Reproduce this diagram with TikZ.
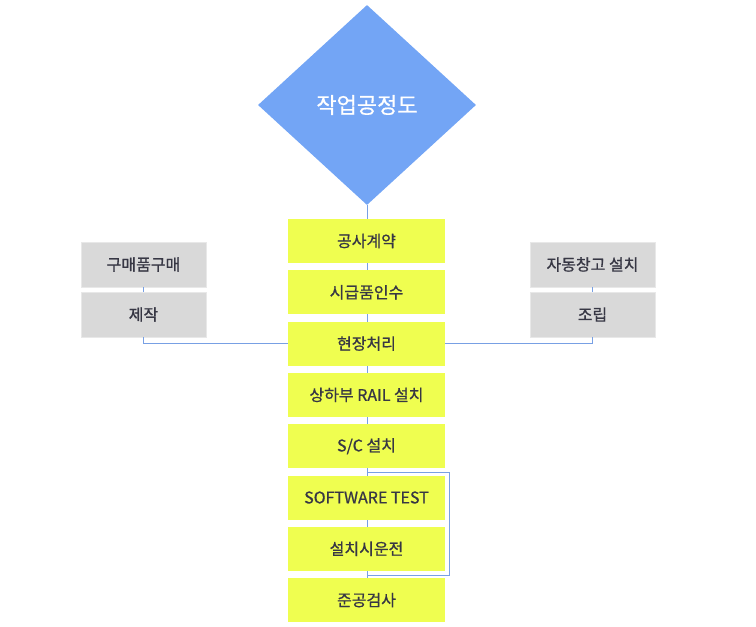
\documentclass[tikz,border=0pt]{standalone}
\usepackage{fontspec}
\setmainfont{Noto Sans CJK KR}[FakeBold=0.8]
\newfontfamily\headfont{Noto Sans CJK KR}[FakeBold=0.6]
\usepackage{xcolor}
\definecolor{sky}{RGB}{115,165,245}
\definecolor{lemon}{RGB}{239,254,80}
\definecolor{ash}{RGB}{217,217,217}
\definecolor{ink}{RGB}{55,55,68}
\definecolor{wire}{RGB}{120,160,228}
\usetikzlibrary{positioning,shapes.geometric}

\begin{document}
\begin{tikzpicture}[
  x=1pt, y=-1pt,
  hub/.style={diamond,fill=sky,inner sep=0pt,minimum width=218pt,minimum height=200pt,
              font=\headfont\fontsize{22}{26}\selectfont,text=white},
  stage/.style={rectangle,fill=lemon,minimum width=157pt,minimum height=44pt,inner sep=0pt,
                font=\fontsize{16}{19}\selectfont,text=ink},
  side/.style={rectangle,fill=ash,draw=ash!60!white,minimum width=125pt,minimum height=45pt,
               inner sep=0pt,font=\fontsize{16}{19}\selectfont,text=ink},
  link/.style={draw=wire,line width=0.8pt},
]
  \useasboundingbox (0,0) rectangle (756,627);
  %% spine
  \node[hub] (title) at (367,105) {작업공정도};
  \coordinate (spineend) at (367,598);
  \draw[link] (title.south) -- (spineend);
  \node[stage] (s1) at (366.5,241) {공사계약};
  \node[stage] (s2) at (366.5,292.3) {시급품인수};
  \node[stage] (s3) at (366.5,343.6) {현장처리};
  \node[stage] (s4) at (366.5,394.9) {상하부 RAIL 설치};
  \node[stage] (s5) at (366.5,446.2) {S/C 설치};
  \node[stage] (s6) at (366.5,497.5) {SOFTWARE TEST};
  \node[stage] (s7) at (366.5,548.8) {설치시운전};
  \node[stage] (s8) at (366.5,600.1) {준공검사};
  %% side branches
  \node[side] (buy)  at (143.5,264.5) {구매품구매};
  \node[side] (make) at (143.5,314.5) {제작};
  \node[side] (rack) at (592.5,264.5) {자동창고 설치};
  \node[side] (asm)  at (592.5,314.5) {조립};
  \draw[link] (buy) -- (make);
  \draw[link] (rack) -- (asm);
  \draw[link] (make.south) |- (s3.west);
  \draw[link] (asm.south) |- (s3.east);
  %% test loop
  \coordinate (loopa) at (367,472);
  \coordinate (loopb) at (367,575);
  \draw[link] (loopa) -- (449,472) -- (449,575) -- (loopb);
\end{tikzpicture}
\end{document}
